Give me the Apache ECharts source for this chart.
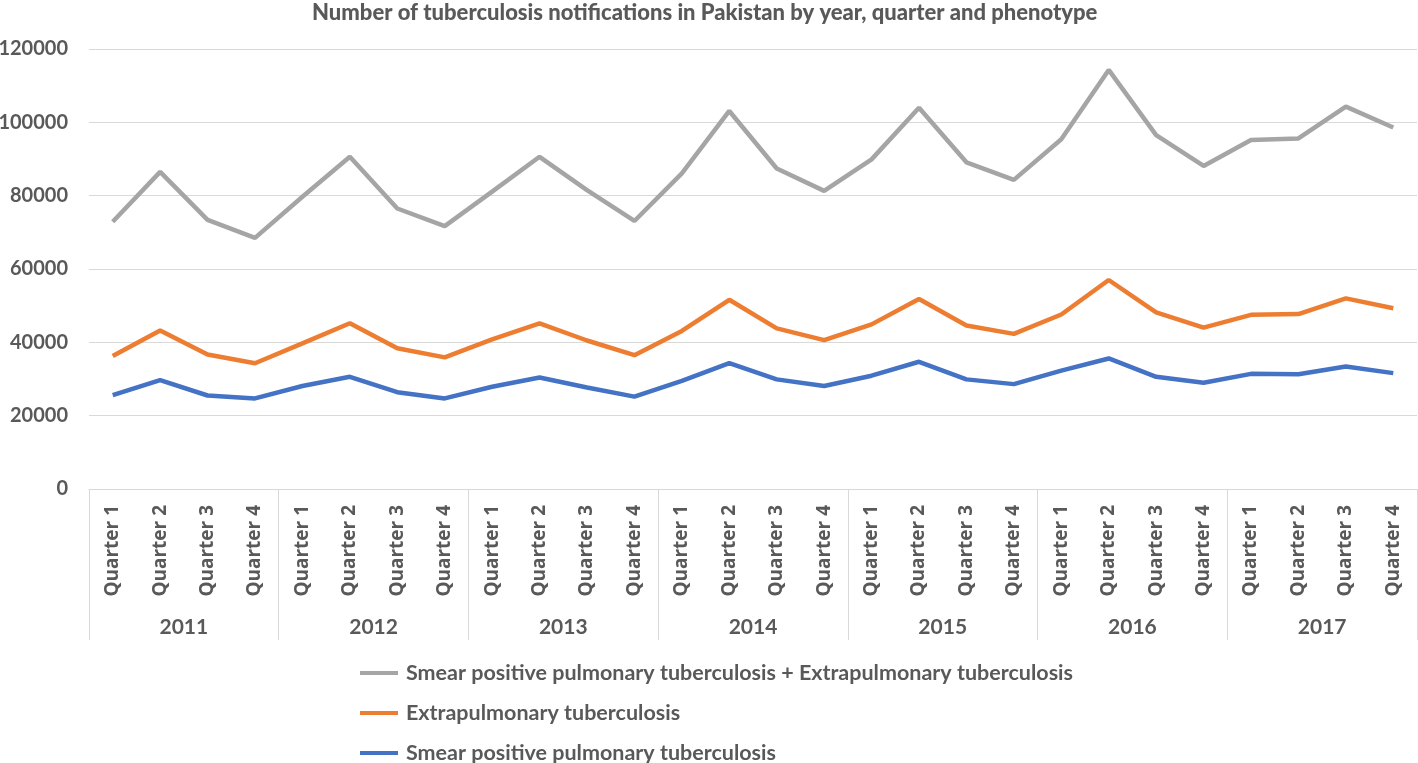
<!DOCTYPE html>
<html>
<head>
<meta charset="utf-8">
<title>Tuberculosis notifications in Pakistan</title>
<script src="https://cdn.jsdelivr.net/npm/echarts@6/dist/echarts.min.js"></script>
<style>
    html, body { margin: 0; padding: 0; background: #fff; }
    #chart { width: 1418px; height: 763px; }
</style>
</head>
<body>
<div id="chart"></div>
<script>
    // 数据
    const years = ['2011', '2012', '2013', '2014', '2015', '2016', '2017'];
    const quarters = ['Quarter 1', 'Quarter 2', 'Quarter 3', 'Quarter 4'];
    const yTicks = [0, 20000, 40000, 60000, 80000, 100000, 120000];

    const seriesNames = [
        'Smear positive pulmonary tuberculosis + Extrapulmonary tuberculosis',
        'Extrapulmonary tuberculosis',
        'Smear positive pulmonary tuberculosis'
    ];

    const totalCases = [
        72900, 86500, 73400, 68500,
        79700, 90600, 76500, 71700,
        81100, 90600, 81500, 73100,
        86100, 103100, 87400, 81300,
        89900, 104000, 89100, 84300,
        95400, 114300, 96500, 88100,
        95200, 95600, 104300, 98600
    ];
    const extraPulmonary = [
        36300, 43200, 36700, 34300,
        39700, 45200, 38400, 35900,
        40800, 45200, 40500, 36500,
        43100, 51600, 43800, 40600,
        44900, 51800, 44600, 42300,
        47600, 57000, 48200, 44000,
        47500, 47700, 52000, 49300
    ];
    const smearPositive = [
        25600, 29700, 25500, 24700,
        28100, 30600, 26400, 24700,
        27900, 30400, 27700, 25200,
        29500, 34300, 29900, 28100,
        30900, 34700, 29900, 28600,
        32300, 35600, 30600, 29000,
        31400, 31300, 33400, 31600
    ];

    const colors = ['#A5A5A5', '#ED7D31', '#4472C4'];
    const textColor = '#595959';
    const lineColor = '#D9D9D9';

    // 季度类目（每年四个）
    const categories = [];
    years.forEach(() => {
        quarters.forEach(q => categories.push(q));
    });

    const myChart = echarts.init(document.getElementById('chart'));

    const option = {
        animation: false,
        color: colors,
        title: {
            text: 'Number of tuberculosis notifications in Pakistan by year, quarter and phenotype',
            left: 307,
            top: -3,
            textStyle: {
                fontFamily: 'Lato',
                fontWeight: 900,
                fontSize: 22,
                color: textColor
            }
        },
        grid: {
            left: 89,
            right: 1,
            top: 49,
            bottom: 274,
            containLabel: false,
            outerBoundsMode: 'none'
        },
        legend: {
            orient: 'vertical',
            left: 360,
            top: 662,
            height: 140,
            padding: 0,
            icon: 'rect',
            itemWidth: 38,
            itemHeight: 4,
            itemGap: 18,
            data: seriesNames,
            textStyle: {
                fontFamily: 'Lato',
                fontWeight: 'bold',
                fontSize: 21.5,
                lineHeight: 20,
                color: textColor,
                padding: [0, 0, 0, 3]
            }
        },
        xAxis: [
            {
                type: 'category',
                data: categories,
                boundaryGap: true,
                axisLine: { show: true, lineStyle: { color: lineColor, width: 1 } },
                axisTick: { show: false },
                axisLabel: {
                    interval: 0,
                    rotate: 90,
                    margin: 16,
                    fontFamily: 'Open Sans',
                    fontWeight: 'bold',
                    fontSize: 19,
                    color: textColor
                },
                splitLine: { show: false }
            },
            {
                type: 'category',
                data: years,
                position: 'bottom',
                boundaryGap: true,
                axisLine: { show: false },
                axisTick: {
                    show: true,
                    interval: 0,
                    length: 151,
                    lineStyle: { color: lineColor, width: 1 }
                },
                axisLabel: {
                    interval: 0,
                    margin: 128,
                    fontFamily: 'Lato',
                    fontWeight: 'bold',
                    fontSize: 21,
                    color: textColor
                },
                splitLine: { show: false }
            }
        ],
        yAxis: {
            type: 'value',
            min: yTicks[0],
            max: yTicks[yTicks.length - 1],
            interval: 20000,
            axisLine: { show: false },
            axisTick: { show: false },
            axisLabel: {
                margin: 21,
                fontFamily: 'Lato',
                fontWeight: 'bold',
                fontSize: 20,
                color: textColor,
                formatter: value => String(value)
            },
            splitLine: {
                lineStyle: { color: lineColor, width: 1 }
            }
        },
        series: [
            { name: seriesNames[0], data: totalCases },
            { name: seriesNames[1], data: extraPulmonary },
            { name: seriesNames[2], data: smearPositive }
        ].map((s, i) => ({
            name: s.name,
            type: 'line',
            xAxisIndex: 0,
            data: s.data,
            showSymbol: false,
            symbol: 'none',
            smooth: false,
            lineStyle: { width: 4.5, color: colors[i] },
            itemStyle: { color: colors[i] }
        }))
    };

    myChart.setOption(option);
</script>
</body>
</html>
